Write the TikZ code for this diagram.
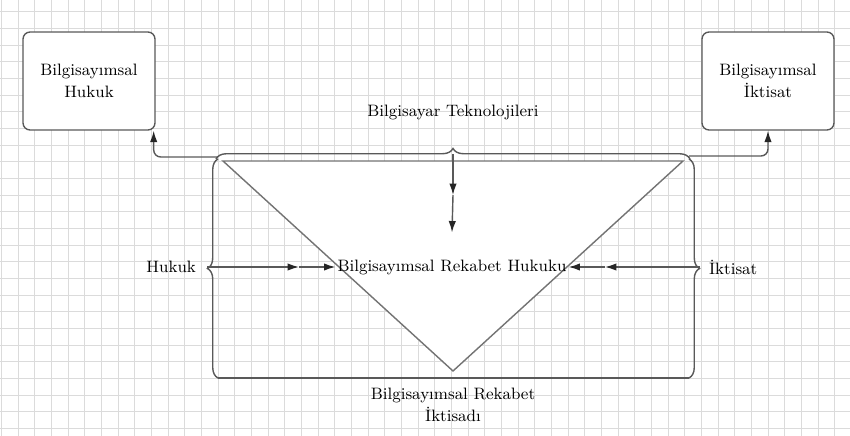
\documentclass[tikz,border=0pt]{standalone}
\usepackage{fontspec}
\usetikzlibrary{arrows.meta,positioning,decorations.pathreplacing}
\begin{document}
\begin{tikzpicture}[x=0.02cm, y=-0.02cm,
    every node/.style={font=\fontsize{9.4}{12.5}\selectfont},
    box/.style={draw=black!65, line width=0.8pt, fill=white, rounded corners=4pt, minimum width=2.64cm, minimum height=1.96cm, align=center, inner sep=0pt},
    lbl/.style={align=center, inner sep=1pt},
    link/.style={draw=black!65, line width=0.8pt},
    arr/.style={link, -{Latex[length=6.5pt,width=4.2pt,color=black!85]}},
    brc/.style={link, decorate, decoration={brace, amplitude=6pt}}]
  \useasboundingbox (0,0) rectangle (850,436);
  % grid
  \foreach \i in {0,...,50}
    \draw[gray!28, line width=0.4pt] ({1.3+16.67*\i},0) -- ({1.3+16.67*\i},436);
  \foreach \j in {1,...,26}
    \draw[gray!28, line width=0.4pt] (0,{-5+16.67*\j}) -- (850,{-5+16.67*\j});
  % side boxes
  \node[box] (law) at (89,81) {Bilgisayımsal\\Hukuk};
  \node[box] (econ) at (768,81) {Bilgisayımsal\\İktisat};
  % triangle and braces
  \draw[link, draw=black!55, fill=white] (223,161) -- (683,161) -- (453,371) -- cycle;
  \draw[brc] (216,159) -- (690,159);
  \draw[brc] (218,378) -- (218,159);
  \draw[brc] (689,159) -- (689,378);
  \draw[link] (218,378) -- (689,378);
  % labels
  \node[lbl] (tech) at (453,112) {Bilgisayar Teknolojileri};
  \node[lbl] (core) at (452,267) {Bilgisayımsal Rekabet Hukuku};
  \node[lbl, anchor=east] (hukuk) at (198,267) {Hukuk};
  \node[lbl, anchor=west] (iktisat) at (707,267) {İktisat};
  \node[lbl] (bottom) at (453,405) {Bilgisayımsal Rekabet\\İktisadı};
  % connectors
  \coordinate (tb) at (453,154);
  \coordinate (tmid) at (453,195);
  \coordinate (lb) at (207,267);
  \coordinate (lmid) at (299,267);
  \coordinate (rb) at (700,267);
  \coordinate (rmid) at (605,267);
  \coordinate (tl) at (217,157);
  \coordinate (tr) at (689,156);
  \draw[arr] (tb) -- (tmid);
  \draw[arr] (tmid) -- ([yshift=0.5cm]core.north);
  \draw[arr] (lb) -- (lmid);
  \draw[arr] (lmid) -- (core.west);
  \draw[arr] (rb) -- (rmid);
  \draw[arr] (rmid) -- (core.east);
  \draw[arr, rounded corners=4pt] (tl) -| ([xshift=-0.04cm]law.south east);
  \draw[arr, rounded corners=4pt] (tr) -| (econ.south);
\end{tikzpicture}
\end{document}
